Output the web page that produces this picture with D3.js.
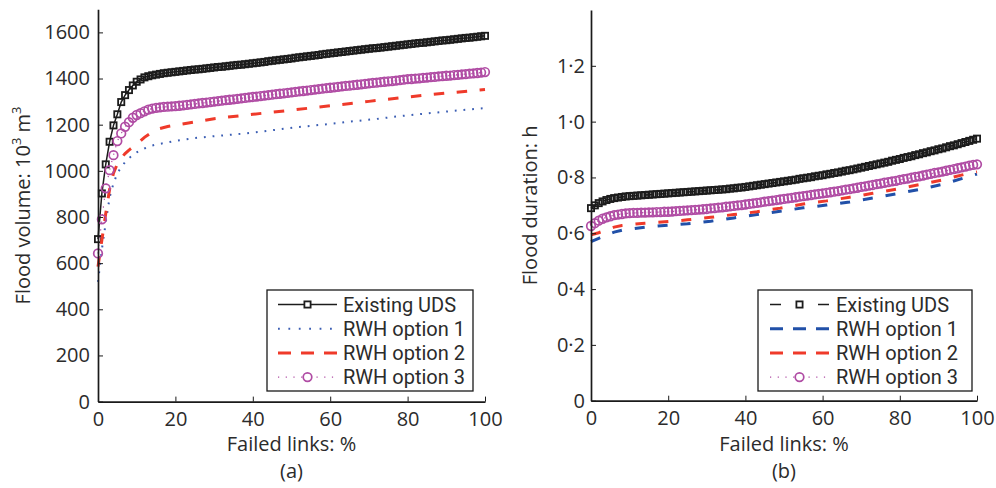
<!DOCTYPE html>
<html><head><meta charset="utf-8">
<script src="https://cdn.jsdelivr.net/npm/d3@7"></script>
<style>
html,body{margin:0;padding:0;background:#fff;}
svg text{font-family:"Open Sans","Noto Sans",sans-serif;fill:#2b2b2b;}
</style></head>
<body><svg id="c" width="996" height="488"></svg>
<script>
// ---------- data ----------
const pct = d3.range(0, 101); // failed links %, 0..100 step 1
const seriesNames = ["Existing UDS", "RWH option 1", "RWH option 2", "RWH option 3"];
const volTicks = [0,200,400,600,800,1000,1200,1400,1600];
const durTicks = [0,0.2,0.4,0.6,0.8,1.0,1.2];
const xTicks = [0,20,40,60,80,100];

// (a) flood volume, 10^3 m^3
const udsVol = [704,902,1028,1126,1197,1245,1298,1328,1350,1370,
1386,1396,1405,1410,1414,1417,1420,1423,1425,1427,
1429,1431,1433,1435,1437,1439,1440,1442,1444,1446,
1448,1450,1451,1453,1455,1457,1459,1460,1462,1464,
1466,1468,1470,1472,1475,1477,1479,1481,1483,1485,
1487,1490,1492,1494,1496,1498,1500,1502,1505,1507,
1509,1511,1513,1515,1517,1519,1521,1523,1525,1527,
1529,1531,1532,1534,1536,1538,1540,1542,1544,1546,
1548,1550,1552,1554,1555,1557,1559,1561,1563,1565,
1566,1568,1570,1572,1574,1576,1577,1579,1581,1583,
1585];
const opt3Vol = [642,790,924,1003,1068,1129,1162,1191,1211,1230,
1242,1250,1258,1265,1270,1273,1275,1277,1278,1279,
1280,1282,1284,1286,1288,1290,1292,1294,1296,1298,
1300,1302,1304,1306,1308,1310,1312,1314,1316,1318,
1320,1322,1324,1326,1328,1330,1332,1334,1336,1338,
1340,1342,1344,1346,1348,1350,1352,1354,1356,1358,
1360,1362,1364,1366,1368,1369,1371,1373,1375,1377,
1379,1381,1382,1384,1386,1388,1389,1391,1393,1395,
1397,1398,1400,1401,1403,1404,1406,1407,1409,1410,
1412,1413,1415,1416,1418,1419,1421,1422,1424,1426,
1428];
const opt1VolX = [0,1,2,3,4,5,6,7,8,9,10,12,14,16,18,20,25,30,38,45,52,58,65,72,78,85,92,100];
const opt1Vol  = [519,660,775,885,945,990,1015,1038,1055,1068,1080,1097,1110,1117,1123,1130,1142,1150,1162,1176,1190,1200,1213,1225,1237,1249,1260,1272];
const opt2VolX = [0,1,2,3,4,5,6,7,8,10,12,14,16,18,20,25,30,40,50,60,70,80,90,100];
const opt2Vol  = [585,700,815,920,990,1030,1055,1075,1090,1115,1145,1168,1183,1192,1198,1212,1226,1245,1263,1282,1301,1320,1337,1352];

// (b) flood duration, h
const udsDur = [0.690,0.700,0.708,0.714,0.719,0.723,0.726,0.728,0.730,0.732,
0.733,0.734,0.735,0.736,0.737,0.738,0.739,0.740,0.741,0.742,
0.743,0.744,0.745,0.746,0.747,0.748,0.749,0.750,0.751,0.752,
0.753,0.754,0.755,0.756,0.757,0.758,0.760,0.761,0.763,0.764,
0.766,0.768,0.770,0.772,0.774,0.776,0.778,0.780,0.782,0.784,
0.786,0.788,0.790,0.792,0.795,0.797,0.799,0.801,0.804,0.806,
0.808,0.811,0.813,0.816,0.818,0.821,0.824,0.826,0.829,0.832,
0.835,0.838,0.841,0.844,0.847,0.850,0.853,0.856,0.860,0.863,
0.866,0.870,0.873,0.876,0.880,0.883,0.887,0.890,0.894,0.897,
0.901,0.904,0.908,0.912,0.915,0.919,0.923,0.927,0.931,0.935,
0.939];
const opt3Dur = [0.626,0.636,0.645,0.652,0.657,0.661,0.665,0.667,0.669,0.671,
0.672,0.673,0.673,0.674,0.674,0.675,0.675,0.676,0.676,0.677,
0.677,0.678,0.679,0.680,0.681,0.682,0.683,0.684,0.685,0.686,
0.687,0.689,0.690,0.692,0.693,0.695,0.696,0.698,0.700,0.701,
0.703,0.705,0.707,0.709,0.711,0.713,0.715,0.717,0.719,0.721,
0.723,0.725,0.727,0.729,0.731,0.733,0.735,0.737,0.739,0.741,
0.743,0.745,0.747,0.749,0.751,0.754,0.756,0.758,0.761,0.763,
0.766,0.768,0.771,0.773,0.776,0.778,0.781,0.783,0.786,0.788,
0.791,0.794,0.796,0.799,0.802,0.804,0.807,0.810,0.813,0.816,
0.818,0.821,0.824,0.827,0.830,0.833,0.836,0.839,0.842,0.845,
0.847];
const optDurX = [0,2,4,6,8,10,14,20,25,31,37,43,49,55,61,67,73,79,85,91,97,100];
const opt1Dur = [0.570,0.582,0.594,0.604,0.611,0.615,0.622,0.629,0.634,0.643,0.655,0.667,0.679,0.691,0.701,0.712,0.726,0.741,0.757,0.775,0.800,0.812];
const opt2Dur = [0.594,0.602,0.612,0.622,0.628,0.631,0.636,0.642,0.648,0.657,0.667,0.677,0.690,0.705,0.716,0.729,0.743,0.758,0.774,0.791,0.812,0.820];

// ---------- styles ----------
const C_BLACK = "#1c1c1c", C_BLUE1 = "#3a5db3", C_BLUE2 = "#2150a8", C_RED = "#ef3a2a", C_MAG = "#b04ca4";
const SQ = 6.2, SQW = 1.8, CR = 4.3, CW = 1.7;

const svg = d3.select("#c");

function panel(cfg) {
  const x = d3.scaleLinear().domain([0,100]).range(cfg.xr);
  const y = d3.scaleLinear().domain(cfg.yd).range(cfg.yr);
  const g = svg.append("g");

  // series
  cfg.series.forEach(s => {
    const pts = s.x.map((xv,i) => [xv, s.y[i]]);
    const line = d3.line().x(d => x(d[0])).y(d => y(d[1]));
    g.append("path").attr("d", line(pts)).attr("fill","none")
      .attr("stroke", s.color).attr("stroke-width", s.width)
      .attr("stroke-dasharray", s.dash || null);
    if (s.marker === "square") {
      g.append("g").selectAll("rect").data(pts).join("rect")
        .attr("x", d => x(d[0]) - SQ/2).attr("y", d => y(d[1]) - SQ/2)
        .attr("width", SQ).attr("height", SQ)
        .attr("fill","none").attr("stroke", s.color).attr("stroke-width", SQW);
    } else if (s.marker === "circle") {
      g.append("g").selectAll("circle").data(pts).join("circle")
        .attr("cx", d => x(d[0])).attr("cy", d => y(d[1])).attr("r", CR)
        .attr("fill","none").attr("stroke", s.color).attr("stroke-width", CW);
    }
  });

  // axes
  const xAxis = d3.axisBottom(x).tickValues(xTicks).tickSizeInner(-5).tickSizeOuter(0).tickPadding(10);
  const yAxis = d3.axisLeft(y).tickValues(cfg.yTicks).tickSizeInner(-5).tickSizeOuter(0).tickPadding(cfg.yPad).tickFormat(cfg.fmt);
  const gx = g.append("g").attr("transform", `translate(0,${cfg.yr[0]})`).call(xAxis);
  const gy = g.append("g").attr("transform", `translate(${cfg.xr[0]},0)`).call(yAxis);
  [gx, gy].forEach(a => {
    a.select(".domain").attr("stroke", "#1a1a1a").attr("stroke-width", 1.7);
    a.selectAll(".tick line").attr("stroke", "#1a1a1a").attr("stroke-width", 1);
    a.selectAll("text").attr("font-size", 20).attr("fill", "#2b2b2b")
      .style("font-family", '"Open Sans","Noto Sans",sans-serif');
  });

  const cx = (cfg.xr[0] + cfg.xr[1]) / 2;
  g.append("text").attr("x", cx).attr("y", 451).attr("text-anchor","middle").attr("font-size",20).text("Failed links: %");
  g.append("text").attr("x", cx).attr("y", 478).attr("text-anchor","middle").attr("font-size",20).text(cfg.tag);

  const cy = (cfg.yr[0] + cfg.yr[1]) / 2;
  const yl = g.append("text").attr("transform", `translate(${cfg.ylx},${cy}) rotate(-90)`)
    .attr("text-anchor","middle").attr("font-size",20);
  cfg.ylabel.forEach(p => {
    const t = yl.append("tspan").text(p.t);
    if (p.sup) t.attr("font-size", 13).attr("baseline-shift", "super");
  });

  // legend
  const L = cfg.legend;
  g.append("rect").attr("x", L.x).attr("y", L.y).attr("width", L.w).attr("height", L.h)
    .attr("fill","#fff").attr("stroke","#1a1a1a").attr("stroke-width",1.3);
  cfg.series.forEach((s, i) => {
    const ly = L.y + 14.5 + i * 24.2;
    const x1 = L.x + L.lx0, x2 = L.x + L.lx1, xm = (x1 + x2) / 2;
    g.append("line").attr("x1", x1).attr("x2", x2).attr("y1", ly).attr("y2", ly)
      .attr("stroke", s.color).attr("stroke-width", s.width)
      .attr("stroke-dasharray", s.ldash || s.dash || null);
    if (s.marker === "square") {
      g.append("rect").attr("x", xm - SQ/2).attr("y", ly - SQ/2).attr("width", SQ).attr("height", SQ)
        .attr("fill","#fff").attr("stroke", s.color).attr("stroke-width", SQW);
    } else if (s.marker === "circle") {
      g.append("circle").attr("cx", xm).attr("cy", ly).attr("r", CR)
        .attr("fill","#fff").attr("stroke", s.color).attr("stroke-width", CW);
    }
    g.append("text").attr("x", L.x + L.tx).attr("y", ly).attr("dy", "0.36em")
      .attr("font-size", 20).style("font-family", 'Roboto,"Open Sans",sans-serif')
      .text(seriesNames[i]);
  });
}

panel({
  xr: [98, 485], yd: [0, 1700], yr: [401.6, 9.3], yTicks: volTicks, yPad: 8,
  fmt: d3.format("d"), tag: "(a)", ylx: 30,
  ylabel: [{t:"Flood volume: 10"},{t:"3",sup:true},{t:" m"},{t:"3",sup:true}],
  legend: {x: 267, y: 290, w: 206, h: 101, lx0: 11, lx1: 70, tx: 76},
  series: [
    {x: pct, y: udsVol, color: C_BLACK, width: 1.5, marker: "square"},
    {x: opt1VolX, y: opt1Vol, color: C_BLUE1, width: 2, dash: "1.8,6.9", ldash: "1.8,8.6"},
    {x: opt2VolX, y: opt2Vol, color: C_RED, width: 3, dash: "10.5,12.5", ldash: "13,10"},
    {x: pct, y: opt3Vol, color: C_MAG, width: 1.2, dash: "1.2,6.5", marker: "circle"}
  ]
});

panel({
  xr: [591, 977], yd: [0, 1.4], yr: [400.7, 10], yTicks: durTicks, yPad: 6,
  fmt: d => d === 0 ? "0" : d3.format(".1f")(d).replace(".", "\u00B7"), tag: "(b)", ylx: 537,
  ylabel: [{t:"Flood duration: h"}],
  legend: {x: 758, y: 290, w: 214, h: 101, lx0: 12, lx1: 71, tx: 78},
  series: [
    {x: pct, y: udsDur, color: C_BLACK, width: 1.5, dash: "8,6", ldash: "11,37", marker: "square"},
    {x: optDurX, y: opt1Dur, color: C_BLUE2, width: 3, dash: "10,13", ldash: "13,10"},
    {x: optDurX, y: opt2Dur, color: C_RED, width: 3, dash: "10,13", ldash: "13,10"},
    {x: pct, y: opt3Dur, color: C_MAG, width: 1.2, dash: "1.2,6.5", marker: "circle"}
  ]
});
</script></body></html>
